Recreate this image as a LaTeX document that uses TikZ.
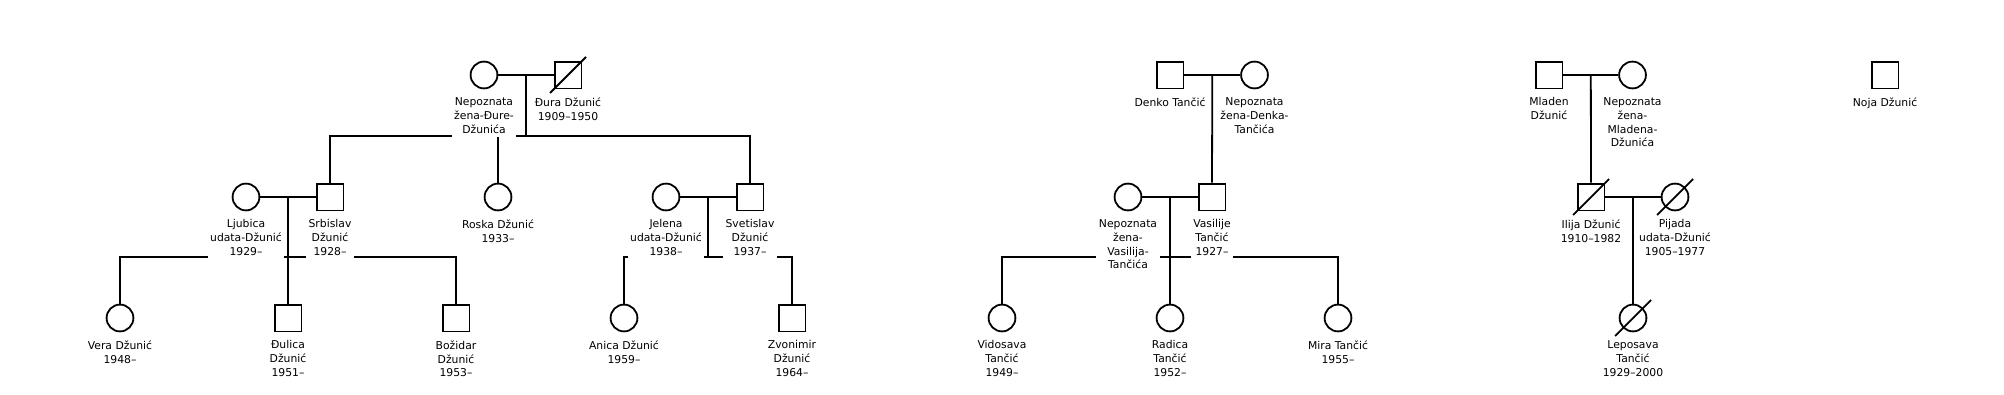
\documentclass[tikz,border=0pt]{standalone}
\usepackage{fontspec}
\setmainfont{DejaVu Sans}

\begin{document}
\begin{tikzpicture}[x=1pt,y=-1pt,line width=1.8pt,font=\fontsize{10.8}{13.8}\selectfont,
 sym/.style={draw,fill=white,inner sep=0pt,minimum size=26.8pt},
 fem/.style={sym,circle},
 male/.style={sym,rectangle},
 tag/.style={fill=white,align=center,inner xsep=2.5pt,inner ysep=4pt,outer sep=0pt,anchor=north,yshift=-4.3pt}]
\path[use as bounding box] (0,0) rectangle (2004,394);

% generation 1
\node[fem] (nepD) at (484,75) {};
\node[male] (dura) at (568,75) {};
\node[male] (denko) at (1170,75) {};
\node[fem] (nepDk) at (1254.5,75) {};
\node[male] (mladen) at (1549,75) {};
\node[fem] (nepM) at (1632.5,75) {};
\node[male] (noja) at (1885,75) {};
% generation 2
\node[fem] (ljub) at (246,197) {};
\node[male] (srbi) at (330,197) {};
\node[fem] (roska) at (498,197) {};
\node[fem] (jelena) at (666,197) {};
\node[male] (sveti) at (750,197) {};
\node[fem] (nepV) at (1128,197) {};
\node[male] (vasi) at (1212,197) {};
\node[male] (ilija) at (1591,197) {};
\node[fem] (pijada) at (1675,197) {};
% generation 3
\node[fem] (vera) at (120,318) {};
\node[male] (dulica) at (288,318) {};
\node[male] (bozi) at (456,318) {};
\node[fem] (anica) at (624,318) {};
\node[male] (zvoni) at (792,318) {};
\node[fem] (vido) at (1002,318) {};
\node[fem] (radica) at (1170,318) {};
\node[fem] (mira) at (1338,318) {};
\node[fem] (lepo) at (1633,318) {};

% deceased
\foreach \n in {dura,ilija,pijada,lepo}
 \draw ([shift={(-18,18)}]\n.center)--([shift={(18,-18)}]\n.center);

% couples and their children
\coordinate (m1) at (526,75);
\coordinate (k1) at (526,136);
\draw (nepD.east)--(dura.west);
\draw (m1)--(k1);
\draw (srbi.north)|-(k1)-|(sveti.north);
\draw (roska.north)--(roska.north|-k1);

\coordinate (m2) at (288,197);
\coordinate (k2) at (288,257);
\draw (ljub.east)--(srbi.west);
\draw (m2)--(dulica.north);
\draw (vera.north)|-(k2)-|(bozi.north);

\coordinate (m3) at (708,197);
\coordinate (k3) at (708,257);
\draw (jelena.east)--(sveti.west);
\draw (m3)--(k3);
\draw (anica.north)|-(k3)-|(zvoni.north);

\coordinate (m4) at (1212.3,75);
\draw (denko.east)--(nepDk.west);
\draw (m4)--(vasi.north);

\coordinate (m5) at (1170,197);
\draw (nepV.east)--(vasi.west);
\draw (m5)--(radica.north);
\draw (vido.north)|-(1170,257)-|(mira.north);

\coordinate (m6) at (1590.8,75);
\draw (mladen.east)--(nepM.west);
\draw (m6)--(ilija.north);

\coordinate (m7) at (1633,197);
\draw (ilija.east)--(pijada.west);
\draw (m7)--(lepo.north);

% names, on white so they break the lines behind them
\node[tag] (nepDL) at (nepD.south) {Nepoznata\\žena-Đure-\\Džunića};
\node[tag] (duraL) at (dura.south) {Đura Džunić\\1909–1950};
\node[tag] (denkoL) at (denko.south) {Denko Tančić};
\node[tag] (nepDkL) at (nepDk.south) {Nepoznata\\žena-Denka-\\Tančića};
\node[tag] (mladenL) at (mladen.south) {Mladen\\Džunić};
\node[tag] (nepML) at (nepM.south) {Nepoznata\\žena-\\Mladena-\\Džunića};
\node[tag] (nojaL) at (noja.south) {Noja Džunić};
\node[tag] (ljubL) at (ljub.south) {Ljubica\\udata-Džunić\\1929–};
\node[tag] (srbiL) at (srbi.south) {Srbislav\\Džunić\\1928–};
\node[tag] (roskaL) at (roska.south) {Roska Džunić\\1933–};
\node[tag] (jelenaL) at (jelena.south) {Jelena\\udata-Džunić\\1938–};
\node[tag] (svetiL) at (sveti.south) {Svetislav\\Džunić\\1937–};
\node[tag] (nepVL) at (nepV.south) {Nepoznata\\žena-\\Vasilija-\\Tančića};
\node[tag] (vasiL) at (vasi.south) {Vasilije\\Tančić\\1927–};
\node[tag] (ilijaL) at (ilija.south) {Ilija Džunić\\1910–1982};
\node[tag] (pijadaL) at (pijada.south) {Pijada\\udata-Džunić\\1905–1977};
\node[tag] (veraL) at (vera.south) {Vera Džunić\\1948–};
\node[tag] (dulicaL) at (dulica.south) {Đulica\\Džunić\\1951–};
\node[tag] (boziL) at (bozi.south) {Božidar\\Džunić\\1953–};
\node[tag] (anicaL) at (anica.south) {Anica Džunić\\1959–};
\node[tag] (zvoniL) at (zvoni.south) {Zvonimir\\Džunić\\1964–};
\node[tag] (vidoL) at (vido.south) {Vidosava\\Tančić\\1949–};
\node[tag] (radicaL) at (radica.south) {Radica\\Tančić\\1952–};
\node[tag] (miraL) at (mira.south) {Mira Tančić\\1955–};
\node[tag] (lepoL) at (lepo.south) {Leposava\\Tančić\\1929–2000};
\end{tikzpicture}
\end{document}
